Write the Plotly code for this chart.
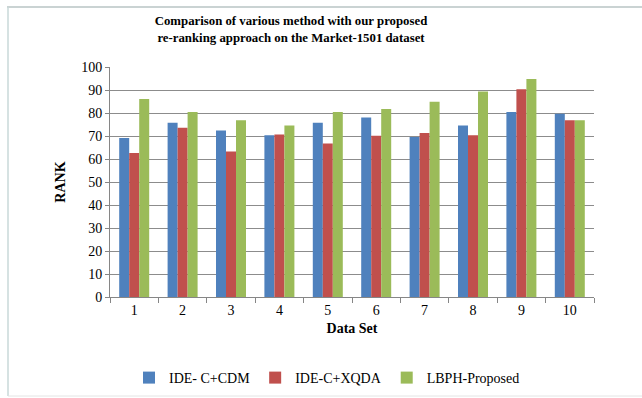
import plotly.graph_objects as go

categories = ["1", "2", "3", "4", "5", "6", "7", "8", "9", "10"]
ide_cdm = [69.1, 75.8, 72.4, 70.3, 75.8, 78.0, 69.6, 74.6, 80.4, 79.7]
ide_xqda = [62.6, 73.6, 63.3, 70.6, 66.7, 70.1, 71.3, 70.3, 90.3, 76.8]
lbph = [86.1, 80.4, 76.8, 74.6, 80.4, 81.7, 84.9, 89.3, 94.8, 76.8]
series_names = ["IDE- C+CDM", "IDE-C+XQDA", "LBPH-Proposed"]
colors = ["#4F81BD", "#C0504D", "#9BBB59"]

W, H = 642, 398
L, R, T, B = 110, 48, 67, 101
PW, PH = W - L - R, H - T - B

fig = go.Figure()
for name, vals, c in zip(series_names, [ide_cdm, ide_xqda, lbph], colors):
    fig.add_trace(go.Bar(x=categories, y=vals, name=name, marker=dict(color=c, line=dict(width=0))))

font_serif = "Liberation Serif, Times New Roman, serif"
fig.update_layout(
    width=W, height=H,
    margin=dict(l=L, r=R, t=T, b=B, autoexpand=False),
    paper_bgcolor="white", plot_bgcolor="white",
    barmode="group", bargap=0.38, bargroupgap=0,
    font=dict(family=font_serif, color="#000000", size=14),
    title=dict(
        text="<b>Comparison of various method with our proposed<br>re-ranking approach on the Market-1501 dataset</b>",
        x=291 / W, xanchor="center", xref="container",
        y=1 - 25 / H, yanchor="middle", yref="container",
        font=dict(family=font_serif, size=12.8, color="#000000"),
    ),
    showlegend=True,
    legend=dict(orientation="h", x=(327 - L) / PW, xanchor="center",
                y=(297 - 378) / PH, yanchor="middle",
                font=dict(family=font_serif, size=14), itemwidth=30,
                traceorder="normal"),
    xaxis=dict(
        title=dict(text="<b>Data Set</b>", font=dict(family=font_serif, size=14), standoff=6),
        showgrid=False, showline=True, linecolor="#868686", linewidth=1,
        ticks="outside", tickson="boundaries", ticklen=5, tickcolor="#868686",
        tickfont=dict(family=font_serif, size=14),
    ),
    yaxis=dict(
        title=dict(text="<b>RANK</b>", font=dict(family=font_serif, size=14), standoff=12),
        range=[0, 100], dtick=10, showgrid=True, gridcolor="#8c8c8c", gridwidth=1,
        showline=True, linecolor="#868686", linewidth=1,
        ticks="outside", ticklen=4, tickcolor="#868686",
        tickfont=dict(family=font_serif, size=14),
        zeroline=False,
    ),
)

def px_x(x):
    return (x - L) / PW

def px_y(y):
    return (H - B - y) / PH

# outer chart border (light)
fig.add_shape(type="line", xref="paper", yref="paper",
              x0=px_x(7), x1=px_x(W), y0=px_y(7), y1=px_y(7),
              line=dict(color="#b8c4c4", width=1.5))
fig.add_shape(type="line", xref="paper", yref="paper",
              x0=px_x(8), x1=px_x(8), y0=px_y(7), y1=px_y(396),
              line=dict(color="#c8d8d8", width=1.5))
fig.add_shape(type="line", xref="paper", yref="paper",
              x0=px_x(8), x1=px_x(W), y0=px_y(396), y1=px_y(396),
              line=dict(color="#e4e4e4", width=1))

fig.write_html("out.html", config={"displayModeBar": False},
               post_script="document.body.style.margin='0';document.body.style.overflow='hidden';")
